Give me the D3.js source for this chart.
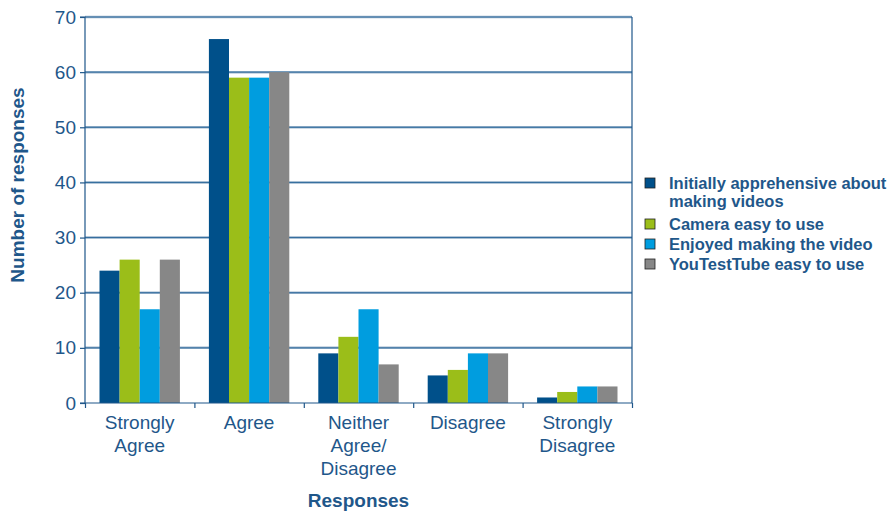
<!DOCTYPE html>
<html>
<head>
  <meta charset="utf-8">
  <title>Responses</title>
  <script src="https://d3js.org/d3.v7.min.js"></script>
  <style>
    body { margin: 0; background: #fff; }
    text { font-family: "Liberation Sans", Arial, sans-serif; fill: #1f578a; }
  </style>
</head>
<body>
  <svg width="895" height="511"></svg>
  <script>
    // Data
    const categories = [["Strongly", "Agree"], ["Agree"], ["Neither", "Agree/", "Disagree"], ["Disagree"], ["Strongly", "Disagree"]];
    const seriesNames = [["Initially apprehensive about", "making videos"], ["Camera easy to use"], ["Enjoyed making the video"], ["YouTestTube easy to use"]];
    const apprehensive = [24, 66, 9, 5, 1];
    const cameraEasy = [26, 59, 12, 6, 2];
    const enjoyed = [17, 59, 17, 9, 3];
    const youTestTubeEasy = [26, 60, 7, 9, 3];
    const yTicks = [0, 10, 20, 30, 40, 50, 60, 70];

    const series = [apprehensive, cameraEasy, enjoyed, youTestTubeEasy];
    const colors = ["#00508a", "#9bbe19", "#009ddf", "#878787"];

    const margin = { top: 17, right: 263, bottom: 108, left: 85 };
    const width = 895 - margin.left - margin.right;
    const height = 511 - margin.top - margin.bottom;

    const svg = d3.select("svg");
    const g = svg.append("g").attr("transform", `translate(${margin.left},${margin.top})`);

    const x0 = d3.scaleBand().domain(d3.range(categories.length)).range([0, width]).padding(0);
    const x1 = d3.scaleBand().domain(d3.range(series.length))
      .range([14.5, x0.bandwidth() - 14.5]).padding(0);
    const y = d3.scaleLinear().domain([0, 70]).range([height, 0]);

    // gridlines
    g.selectAll(".grid").data(yTicks.slice(1)).enter().append("line")
      .attr("x1", 0).attr("x2", width)
      .attr("y1", d => y(d)).attr("y2", d => y(d))
      .attr("stroke", "#9bb4cc").attr("stroke-width", 2.5);
    g.selectAll(".grid2").data(yTicks.slice(1)).enter().append("line")
      .attr("x1", 0).attr("x2", width)
      .attr("y1", d => y(d)).attr("y2", d => y(d))
      .attr("stroke", "#2f6a9c").attr("stroke-width", 1);

    // right border
    g.append("line").attr("x1", width).attr("x2", width).attr("y1", 0).attr("y2", height)
      .attr("stroke", "#1f578a").attr("stroke-width", 1.2);

    // bars
    series.forEach((vals, s) => {
      g.selectAll(".bar" + s).data(vals).enter().append("rect")
        .attr("x", (d, i) => x0(i) + x1(s))
        .attr("y", d => y(d))
        .attr("width", x1.bandwidth())
        .attr("height", d => height - y(d))
        .attr("fill", colors[s]);
    });

    // y axis
    const yAxis = g.append("g")
      .call(d3.axisLeft(y).tickValues(yTicks).tickSize(5).tickPadding(4));
    yAxis.selectAll("line, path").attr("stroke", "#1f578a").attr("stroke-width", 1.2);
    yAxis.select(".domain").attr("d", `M-5,0H0V${height}H-5`);
    yAxis.selectAll("text").style("font-family", "Liberation Sans, Arial, sans-serif")
      .style("font-size", "19px").attr("fill", "#1f578a");

    // x axis
    const xAxis = g.append("g").attr("transform", `translate(0,${height})`)
      .call(d3.axisBottom(d3.scaleLinear().domain([0, categories.length]).range([0, width]))
        .tickValues(d3.range(categories.length + 1)).tickSize(5).tickFormat(""));
    xAxis.selectAll("line, path").attr("stroke", "#1f578a").attr("stroke-width", 1.2);
    xAxis.select(".domain").attr("d", `M0,0H${width}`);

    // category labels
    categories.forEach((lines, i) => {
      const t = g.append("text")
        .attr("x", x0(i) + x0.bandwidth() / 2)
        .attr("y", height + 26)
        .attr("text-anchor", "middle")
        .style("font-size", "19px");
      lines.forEach((l, j) => t.append("tspan")
        .attr("x", x0(i) + x0.bandwidth() / 2)
        .attr("dy", j === 0 ? 0 : 23).text(l));
    });

    // axis titles
    svg.append("text").attr("x", margin.left + width / 2).attr("y", 507)
      .attr("text-anchor", "middle").style("font-size", "19px").style("font-weight", "bold")
      .text("Responses");
    svg.append("text").attr("transform", "translate(24,185) rotate(-90)")
      .attr("text-anchor", "middle").style("font-size", "19px").style("font-weight", "bold")
      .text("Number of responses");

    // legend
    const legendY = [183, 224, 244, 264];
    const legend = svg.append("g").attr("transform", "translate(645,0)");
    seriesNames.forEach((lines, s) => {
      legend.append("rect").attr("x", 0).attr("y", legendY[s] - 5).attr("width", 10).attr("height", 10)
        .attr("fill", colors[s]).attr("stroke", "#222").attr("stroke-width", 0.8);
      const t = legend.append("text").attr("x", 24).attr("y", legendY[s] + 6)
        .style("font-size", "16.5px").style("font-weight", "bold");
      lines.forEach((l, j) => t.append("tspan").attr("x", 24).attr("dy", j === 0 ? 0 : 18).text(l));
    });
  </script>
</body>
</html>
